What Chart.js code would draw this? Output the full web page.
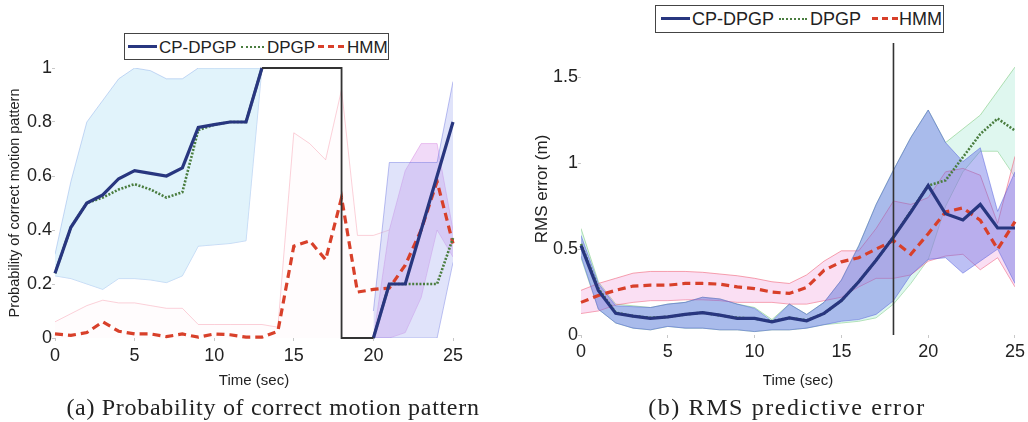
<!DOCTYPE html>
<html>
<head>
<meta charset="utf-8">
<script src="https://cdn.jsdelivr.net/npm/chart.js@4.4.1/dist/chart.umd.min.js"></script>
<style>
  body { margin: 0; background: #fff; width: 1028px; height: 422px; overflow: hidden; position: relative;
         font-family: "Liberation Sans", Arial, sans-serif; }
  canvas { position: absolute; top: 0; }
  #probChart { left: 0; }
  #rmsChart { left: 515px; }
  .legend { position: absolute; border: 1.5px solid #444; background: #fff; color: #222;
            box-sizing: border-box; z-index: 2; white-space: nowrap; }
  .legend .sample { position: absolute; height: 0; }
  .legend .txt { position: absolute; top: 50%; transform: translateY(-50%); line-height: 1; }
  .caption { position: absolute; font-family: "Liberation Serif", serif; font-size: 24px; color: #222;
             white-space: nowrap; transform: translateX(-50%); }
</style>
</head>
<body>
<canvas id="probChart" width="470" height="395"></canvas>
<canvas id="rmsChart" width="513" height="395"></canvas>

<div class="legend" style="left:124px; top:33px; width:265px; height:27px; font-size:17px;">
  <span class="sample" style="left:3px; width:29px; top:11px; border-top:3px solid #28367f;"></span>
  <span class="txt" style="left:34px;">CP-DPGP</span>
  <span class="sample" style="left:116px; width:23px; top:12px; border-top:2.5px dotted #4a7d3f;"></span>
  <span class="txt" style="left:142px;">DPGP</span>
  <span class="sample" style="left:193px; width:26px; top:11px; border-top:3px dashed #d8402a;"></span>
  <span class="txt" style="left:222px;">HMM</span>
</div>
<div class="legend" style="left:655px; top:5px; width:289px; height:28px; font-size:18px;">
  <span class="sample" style="left:5px; width:29px; top:11px; border-top:3px solid #28367f;"></span>
  <span class="txt" style="left:36px;">CP-DPGP</span>
  <span class="sample" style="left:123px; width:28px; top:12px; border-top:2.5px dotted #4a7d3f;"></span>
  <span class="txt" style="left:154px;">DPGP</span>
  <span class="sample" style="left:216px; width:26px; top:11px; border-top:3px dashed #d8402a;"></span>
  <span class="txt" style="left:243px;">HMM</span>
</div>

<div class="caption" style="left:273px; top:394px; letter-spacing:0.7px;">(a) Probability of correct motion pattern</div>
<div class="caption" style="left:787px; top:394px; letter-spacing:1.6px;">(b) RMS predictive error</div>

<script>
// time axis (seconds)
const time = [0,1,2,3,4,5,6,7,8,9,10,11,12,13,14,15,16,17,18,19,20,21,22,23,24,25];
const xTicks = [0, 5, 10, 15, 20, 25];
const probTicks = [0, 0.2, 0.4, 0.6, 0.8, 1];
const rmsTicks = [0, 0.5, 1, 1.5];

// (a) probability of correct motion pattern
const cpProb = [0.24,0.41,0.50,0.53,0.59,0.62,0.61,0.60,0.63,0.78,0.79,0.80,0.80,1.00,
                null,null,null,null,null,null,0.00,0.20,0.20,0.40,0.60,0.80];
const dpgpProb = [0.24,0.41,0.50,0.52,0.55,0.57,0.55,0.52,0.54,0.77,0.79,0.80,0.80,1.00,
                  null,null,null,null,null,null,0.00,0.20,0.20,0.20,0.20,0.37];
const hmmProb = [0.015,0.01,0.02,0.06,0.025,0.015,0.015,0.005,0.015,0.003,0.015,0.012,0.003,0.003,
                 0.025,0.34,0.36,0.29,0.52,0.17,0.18,0.185,0.27,0.40,0.58,0.35];
// change point trace
const changeX = [13, 18, 18, 20];
const changeY = [1, 1, 0, 0];
// uncertainty bands
const earlyTime = [0,1,2,3,4,5,6,7,8,9,10,11,12,13];
const cpProbUpperEarly = [0.31,0.58,0.80,0.88,0.96,1.00,0.99,0.96,0.96,1.00,1.00,1.00,1.00,1.00];
const cpProbLowerEarly = [0.23,0.22,0.20,0.18,0.22,0.22,0.215,0.205,0.23,0.34,0.345,0.35,0.36,1.00];
const lateTime = [20,21,22,23,24,25];
const cpProbUpperLate = [0.10,0.65,0.65,0.65,0.65,0.95];
const cpProbLowerLate = [0.00,0.00,0.00,0.00,0.00,0.28];
const hmmProbUpperLate = [0.00,0.40,0.62,0.72,0.72,0.40];
const hmmProbLowerLate = [0.00,0.00,0.02,0.15,0.40,0.30];
const hmmFaintTime = [0,1,2,3,4,5,6,7,8,9,10,11,12,13,14,15,16,17,18,19,20,21];
const hmmProbUpper = [0.06,0.09,0.12,0.14,0.13,0.13,0.12,0.11,0.11,0.05,0.05,0.05,0.05,0.05,0.04,
                      0.76,0.72,0.66,0.92,0.38,0.38,0.40];

// (b) RMS predictive error (m)
const cpRms = [0.52,0.26,0.126,0.11,0.097,0.106,0.12,0.13,0.116,0.097,0.097,0.077,0.10,0.083,
               0.126,0.20,0.31,0.435,0.57,0.716,0.87,0.706,0.67,0.76,0.623,0.623];
const dpgpRms = [0.53,0.27,0.13,0.11,0.10,0.105,0.12,0.13,0.115,0.10,0.095,0.08,0.10,0.085,
                 0.125,0.20,0.31,0.435,0.57,0.72,0.87,0.90,1.035,1.17,1.26,1.19];
const hmmRms = [0.19,0.23,0.26,0.285,0.29,0.29,0.30,0.30,0.296,0.28,0.27,0.25,0.242,0.277,
                0.377,0.426,0.45,0.50,0.55,0.47,0.59,0.716,0.74,0.668,0.50,0.66];
const cpRmsUpper = [0.58,0.30,0.17,0.165,0.16,0.18,0.19,0.22,0.21,0.18,0.155,0.08,0.18,0.12,
                    0.19,0.32,0.52,0.76,0.96,1.15,1.31,1.12,1.01,1.09,0.72,0.95];
const cpRmsLower = [0.46,0.15,0.07,0.04,0.03,0.05,0.04,0.04,0.03,0.03,0.02,0.03,0.03,0.04,
                    0.06,0.08,0.09,0.12,0.20,0.35,0.44,0.45,0.36,0.43,0.50,0.30];
const dpgpRmsUpper = [0.62,0.31,0.18,0.17,0.16,0.18,0.19,0.22,0.21,0.18,0.16,0.09,0.18,0.12,
                      0.19,0.32,0.52,0.76,0.96,1.15,1.31,1.12,1.20,1.28,1.42,1.56];
const dpgpRmsLower = [0.45,0.15,0.07,0.04,0.03,0.05,0.04,0.04,0.03,0.03,0.02,0.03,0.03,0.04,
                      0.06,0.07,0.08,0.10,0.18,0.30,0.44,0.75,0.95,1.07,1.07,0.92];
const hmmRmsUpper = [0.26,0.30,0.33,0.36,0.37,0.37,0.37,0.365,0.355,0.345,0.33,0.31,0.30,0.35,
                     0.43,0.49,0.49,0.62,0.78,0.76,0.80,0.95,0.97,0.93,0.65,1.04];
const hmmRmsLower = [0.125,0.14,0.175,0.19,0.20,0.20,0.205,0.205,0.20,0.19,0.19,0.19,0.18,0.18,
                     0.20,0.22,0.28,0.33,0.33,0.35,0.43,0.46,0.47,0.38,0.45,0.28];
const markerX = [18, 18];
const markerY = [0, 1.7];

const NAVY = "#28367f";
const GREEN = "#4a7d3f";
const RED = "#d8402a";
const FONT = "'Liberation Sans', Arial, sans-serif";

function pts(xs, ys) {
  return ys.map((y, i) => ({ x: xs[i], y: y }));
}

function line(label, xs, ys, color, width, dash) {
  return {
    label: label, data: pts(xs, ys), borderColor: color, borderWidth: width,
    borderDash: dash || [], pointRadius: 0, fill: false, tension: 0, clip: 5, spanGaps: false
  };
}

// upper edge fills down to the lower edge (next dataset)
function band(label, xs, upper, lower, fillColor, edgeColor) {
  return [
    { label: label + " upper", data: pts(xs, upper), borderColor: edgeColor, borderWidth: 0.8,
      backgroundColor: fillColor, fill: "+1", pointRadius: 0, tension: 0 },
    { label: label + " lower", data: pts(xs, lower), borderColor: edgeColor, borderWidth: 0.8,
      fill: false, pointRadius: 0, tension: 0 }
  ];
}

function makeScales(yMax, yTicks, yTitle, yTitleSize, yTitlePad, yWidth, xHeight, xPad) {
  return {
    x: {
      type: "linear", min: 0, max: 25,
      afterBuildTicks: s => { s.ticks = xTicks.map(v => ({ value: v })); },
      afterFit: s => { s.height = xHeight; },
      grid: { display: true, drawOnChartArea: false, tickLength: 3, color: "#c8c8c8" },
      border: { display: false },
      ticks: { font: { size: 18, family: FONT }, color: "#222", padding: xPad, maxRotation: 0,
               callback: v => String(v) },
      title: { display: true, text: "Time (sec)", font: { size: 15, family: FONT }, color: "#222",
               padding: { top: 0, bottom: 5 } }
    },
    y: {
      min: 0, max: yMax,
      afterBuildTicks: s => { s.ticks = yTicks.map(v => ({ value: v })); },
      afterFit: s => { s.width = yWidth; },
      grid: { display: true, drawOnChartArea: false, tickLength: 3, color: "#c8c8c8" },
      border: { display: false },
      ticks: { font: { size: 18, family: FONT }, color: "#222", padding: 0,
               callback: v => String(Math.round(v * 100) / 100) },
      title: { display: true, text: yTitle, font: { size: yTitleSize, family: FONT }, color: "#222",
               padding: { top: yTitlePad, bottom: 0 } }
    }
  };
}

function baseOptions(pad, scales) {
  return {
    responsive: false, animation: false, devicePixelRatio: 1,
    layout: { padding: pad },
    plugins: { legend: { display: false }, tooltip: { enabled: false } },
    scales: scales
  };
}

// (a) first dataset is drawn on top
new Chart(document.getElementById("probChart"), {
  type: "line",
  data: {
    datasets: [
      line("change", changeX, changeY, "#333", 1.8),
      line("CP-DPGP", time, cpProb, NAVY, 3.2),
      line("DPGP", time, dpgpProb, GREEN, 2.6, [2, 1.6]),
      line("HMM", time, hmmProb, RED, 3.2, [8, 5]),
      ...band("CP-DPGP late", lateTime, cpProbUpperLate, cpProbLowerLate,
              "rgba(165,175,240,0.35)", "rgba(90,100,220,0.5)"),
      ...band("HMM late", lateTime, hmmProbUpperLate, hmmProbLowerLate,
              "rgba(215,150,235,0.35)", "rgba(210,120,220,0.5)"),
      { label: "HMM band", data: pts(hmmFaintTime, hmmProbUpper), borderColor: "rgba(245,140,160,0.5)",
        borderWidth: 0.8, backgroundColor: "rgba(245,190,210,0.04)", fill: "origin", pointRadius: 0, tension: 0 },
      ...band("CP-DPGP early", earlyTime, cpProbUpperEarly, cpProbLowerEarly,
              "rgba(200,233,247,0.55)", "rgba(120,160,230,0.5)")
    ]
  },
  options: baseOptions({ top: 68, right: 17, left: 0, bottom: 0 },
    makeScales(1, probTicks, "Probability of correct motion pattern", 14.5, 6, 55, 57, 4))
});

// (b)
new Chart(document.getElementById("rmsChart"), {
  type: "line",
  data: {
    datasets: [
      line("marker", markerX, markerY, "#333", 1.6),
      line("CP-DPGP", time, cpRms, NAVY, 3.2),
      line("DPGP", time, dpgpRms, GREEN, 2.6, [2, 1.6]),
      line("HMM", time, hmmRms, RED, 3.2, [8, 5]),
      ...band("CP-DPGP", time, cpRmsUpper, cpRmsLower, "rgba(95,105,228,0.42)", "rgba(80,90,220,0.6)"),
      ...band("HMM", time, hmmRmsUpper, hmmRmsLower, "rgba(240,150,215,0.30)", "rgba(240,100,120,0.75)"),
      ...band("DPGP", time, dpgpRmsUpper, dpgpRmsLower, "rgba(175,235,215,0.40)", "rgba(120,200,120,0.7)")
    ]
  },
  options: baseOptions({ top: 43, right: 11, left: 0, bottom: 0 },
    makeScales(1.7, rmsTicks, "RMS error (m)", 17, 17, 66, 60, 3))
});
</script>
</body>
</html>
